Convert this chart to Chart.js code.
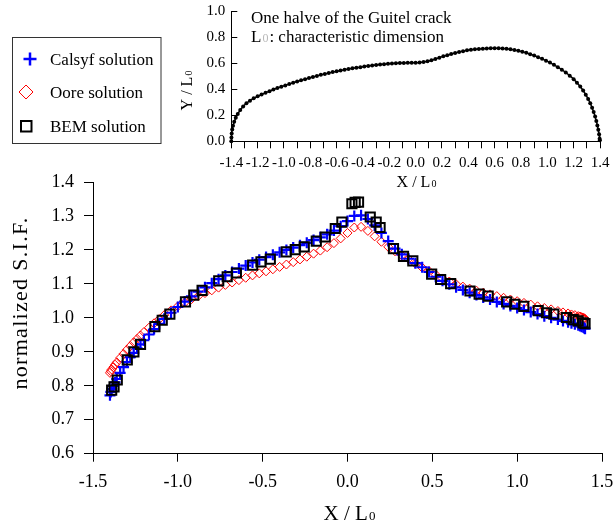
<!DOCTYPE html>
<html>
<head>
<meta charset="utf-8">
<script src="https://cdn.jsdelivr.net/npm/chart.js@4.4.0/dist/chart.umd.min.js"></script>
<style>
  html, body { margin: 0; padding: 0; background: #fff; }
  #wrap { position: relative; width: 613px; height: 528px; }
  #wrap canvas { position: absolute; left: 0; top: 0; }
</style>
</head>
<body>
<div id="wrap">
  <canvas id="main" width="613" height="528"></canvas>
  <canvas id="inset" width="613" height="200"></canvas>
</div>
<script>
// Main chart data: shared x positions for the Calsyf and Oore curves
const xs = [-1.400,-1.395,-1.390,-1.380,-1.370,-1.360,-1.340,-1.320,-1.300,-1.280,-1.260,-1.240,-1.220,-1.200,
  -1.170,-1.140,-1.110,-1.080,-1.040,-1.000,
  -0.960,-0.920,-0.880,-0.840,-0.800,-0.760,-0.720,-0.680,-0.640,-0.600,-0.560,-0.520,-0.480,-0.440,-0.400,
  -0.360,-0.320,-0.280,-0.240,-0.200,-0.160,-0.120,-0.080,-0.040,0.000,
  0.040,0.080,0.120,0.160,0.200,0.240,0.280,0.320,0.360,0.400,0.440,0.480,0.520,0.560,0.600,0.640,0.680,
  0.720,0.760,0.800,0.840,0.880,0.920,0.960,1.000,1.040,1.080,1.120,1.160,1.200,1.240,
  1.270,1.300,1.320,1.340,1.360,1.370,1.380,1.390,1.395,1.400];

const calsyf = [0.772,0.782,0.790,0.800,0.810,0.820,0.838,0.855,0.870,0.884,0.897,0.910,0.922,0.934,
  0.951,0.967,0.982,0.997,1.015,1.032,
  1.048,1.063,1.077,1.090,1.102,1.114,1.125,1.135,1.145,1.154,1.163,1.171,1.179,1.186,1.193,
  1.200,1.207,1.214,1.221,1.229,1.237,1.246,1.257,1.270,1.285,
  1.300,1.302,1.291,1.272,1.250,1.226,1.204,1.187,1.174,1.161,1.149,1.135,1.121,1.109,1.099,1.090,1.082,
  1.074,1.067,1.060,1.054,1.047,1.041,1.035,1.029,1.023,1.017,1.011,1.005,1.000,0.995,
  0.991,0.987,0.984,0.981,0.978,0.976,0.974,0.972,0.970,0.968];

const oore = [0.838,0.843,0.848,0.855,0.862,0.869,0.882,0.894,0.906,0.917,0.928,0.938,0.948,0.958,
  0.971,0.984,0.996,1.008,1.022,1.034,
  1.045,1.055,1.064,1.073,1.081,1.089,1.097,1.104,1.111,1.118,1.125,1.131,1.137,1.143,1.150,
  1.157,1.164,1.172,1.180,1.189,1.198,1.208,1.220,1.234,1.250,
  1.266,1.268,1.256,1.240,1.224,1.209,1.196,1.184,1.173,1.160,1.148,1.138,1.127,1.116,1.107,1.099,1.092,
  1.086,1.080,1.074,1.069,1.064,1.059,1.054,1.049,1.044,1.039,1.034,1.029,1.025,1.020,
  1.016,1.013,1.010,1.008,1.005,1.004,1.002,1.000,0.999,0.997];

const bemX = [-1.390,-1.376,-1.357,-1.298,-1.259,-1.220,-1.135,-1.092,-1.047,-0.955,-0.906,-0.857,
  -0.759,-0.709,-0.655,-0.559,-0.510,-0.455,-0.361,-0.308,-0.255,-0.184,-0.131,-0.072,-0.033,
  0.026,0.045,0.065,0.134,0.169,0.192,0.271,0.330,0.385,0.496,0.549,0.608,0.722,0.776,0.829,
  0.938,0.986,1.039,1.124,1.173,1.216,1.290,1.330,1.359,1.388,1.400];
const bem = [0.787,0.797,0.817,0.876,0.900,0.922,0.974,0.993,1.011,1.047,1.067,1.081,
  1.109,1.121,1.132,1.155,1.165,1.173,1.194,1.201,1.209,1.226,1.238,1.263,1.282,
  1.336,1.340,1.341,1.297,1.282,1.266,1.204,1.181,1.168,1.129,1.113,1.101,1.079,1.070,1.064,
  1.047,1.040,1.034,1.021,1.015,1.011,1.001,0.995,0.991,0.985,0.983];

// Inset: one half of the crack outline
const crackX = [-1.400,-1.399,-1.397,-1.393,-1.387,-1.378,-1.366,-1.351,-1.332,-1.310,-1.285,-1.258,-1.230,
  -1.200,-1.170,-1.140,-1.110,-1.080,-1.050,-1.020,-0.990,-0.960,-0.930,-0.900,-0.870,-0.840,-0.810,
  -0.780,-0.750,-0.720,-0.690,-0.660,-0.630,-0.600,-0.570,-0.540,-0.510,-0.480,-0.450,-0.420,-0.390,
  -0.360,-0.330,-0.300,-0.270,-0.240,-0.210,-0.180,-0.150,-0.120,-0.090,-0.060,-0.030,0.000,
  0.030,0.060,0.090,0.120,0.150,0.180,0.210,0.240,0.270,0.300,0.330,0.360,0.390,0.420,0.450,0.480,
  0.510,0.540,0.570,0.600,0.630,0.660,0.690,0.720,0.750,0.780,0.810,0.840,0.870,0.900,0.930,0.960,
  0.990,1.020,1.050,1.080,1.110,1.140,1.170,1.200,1.225,1.250,1.272,1.292,1.310,1.326,1.340,1.352,
  1.363,1.372,1.380,1.387,1.393,1.397,1.399];
const crackY = [0.000,0.030,0.060,0.090,0.120,0.150,0.180,0.210,0.240,0.268,0.292,0.312,0.330,
  0.345,0.359,0.372,0.385,0.397,0.409,0.419,0.429,0.439,0.449,0.459,0.468,0.477,0.486,
  0.494,0.502,0.510,0.517,0.524,0.531,0.538,0.544,0.549,0.555,0.560,0.565,0.569,0.574,
  0.578,0.582,0.586,0.589,0.592,0.595,0.597,0.599,0.600,0.601,0.602,0.602,0.603,
  0.604,0.608,0.614,0.622,0.632,0.642,0.652,0.661,0.670,0.678,0.685,0.692,0.698,0.703,0.706,0.709,
  0.711,0.713,0.714,0.714,0.714,0.712,0.710,0.706,0.701,0.695,0.688,0.679,0.669,0.658,0.646,0.633,
  0.619,0.604,0.587,0.569,0.550,0.528,0.504,0.477,0.450,0.420,0.390,0.358,0.325,0.292,0.258,0.224,
  0.190,0.156,0.122,0.088,0.054,0.020,0.008];

// Axis ranges
const mainX = { min: -1.5, max: 1.5, step: 0.5 };
const mainY = { min: 0.6, max: 1.4, step: 0.1 };
const insetX = { min: -1.4, max: 1.4, step: 0.1 };
const insetY = { min: 0, max: 1.0, step: 0.2 };

const SERIF = "'Liberation Serif', 'Times New Roman', serif";
const BLUE = '#0000ff';
const RED = '#ff0000';

const pts = (xArr, yArr) => xArr.map((x, i) => ({ x: x, y: yArr[i] }));
const fmt = v => (Math.abs(v) < 1e-9 ? 0 : v).toFixed(1);

// text with a small "0" after it, like "X / L0"
const drawSubText = (ctx, text, sub, x, y, size, subSize, subColor) => {
    ctx.font = `${size}px ${SERIF}`;
    const w1 = ctx.measureText(text).width;
    ctx.font = `${subSize}px ${SERIF}`;
    const w2 = ctx.measureText(sub).width;
    const start = x - (w1 + w2) / 2;
    ctx.textAlign = 'left';
    ctx.font = `${size}px ${SERIF}`;
    ctx.fillText(text, start, y);
    ctx.font = `${subSize}px ${SERIF}`;
    if (subColor) ctx.fillStyle = subColor;
    ctx.fillText(sub, start + w1 + 1, y);
};

// Titles and legend box for the main chart
const mainDecor = {
    id: 'mainDecor',
    afterDraw(chart) {
        const ctx = chart.ctx;
        ctx.save();
        ctx.fillStyle = '#000';
        ctx.textBaseline = 'alphabetic';

        // x title
        drawSubText(ctx, 'X / L', '0', 349, 520, 21, 13);

        // y title
        ctx.save();
        ctx.translate(27, 303);
        ctx.rotate(-Math.PI / 2);
        ctx.font = `22px ${SERIF}`;
        ctx.textAlign = 'center';
        if ('letterSpacing' in ctx) ctx.letterSpacing = '1.3px';
        ctx.fillText('normalized S.I.F.', 0, 0);
        ctx.restore();

        // legend
        ctx.strokeStyle = '#333';
        ctx.lineWidth = 1;
        ctx.strokeRect(12.5, 37.5, 148.5, 106);

        ctx.lineWidth = 2.5;
        ctx.strokeStyle = BLUE;
        ctx.beginPath();
        ctx.moveTo(23.5, 59); ctx.lineTo(36.5, 59);
        ctx.moveTo(30, 52.5); ctx.lineTo(30, 65.5);
        ctx.stroke();

        ctx.lineWidth = 1;
        ctx.strokeStyle = RED;
        ctx.beginPath();
        ctx.moveTo(19, 92); ctx.lineTo(26, 85); ctx.lineTo(33, 92); ctx.lineTo(26, 99);
        ctx.closePath();
        ctx.stroke();

        ctx.lineWidth = 2;
        ctx.strokeStyle = '#000';
        ctx.strokeRect(21, 121, 10.5, 10.5);

        ctx.font = `17px ${SERIF}`;
        ctx.textAlign = 'left';
        ctx.fillStyle = '#000';
        ctx.fillText('Calsyf solution', 50, 64.5);
        ctx.fillText('Oore solution', 50, 98);
        ctx.fillText('BEM solution', 50, 131.5);
        ctx.restore();
    }
};

// Inward ticks, titles and notes for the inset
const insetDecor = {
    id: 'insetDecor',
    afterDraw(chart) {
        const ctx = chart.ctx;
        const ys = chart.scales.y;
        const left = chart.chartArea.left;
        ctx.save();
        ctx.strokeStyle = '#000';
        ctx.lineWidth = 1;
        ctx.beginPath();
        ys.ticks.forEach(t => {
            const py = Math.round(ys.getPixelForValue(t.value)) + 0.5;
            ctx.moveTo(left, py);
            ctx.lineTo(left + 6, py);
        });
        ctx.stroke();

        ctx.fillStyle = '#000';
        ctx.textBaseline = 'alphabetic';
        drawSubText(ctx, 'X / L', '0', 416, 187, 16, 10);

        ctx.save();
        ctx.translate(192, 91);
        ctx.rotate(-Math.PI / 2);
        ctx.fillStyle = '#000';
        drawSubText(ctx, 'Y / L', '0', 0, 0, 16, 10);
        ctx.restore();

        ctx.fillStyle = '#000';
        ctx.font = `17px ${SERIF}`;
        ctx.textAlign = 'left';
        ctx.fillText('One halve of the Guitel crack', 251, 23);
        ctx.fillText('L', 251, 41.5);
        const wL = ctx.measureText('L').width;
        ctx.font = `12px ${SERIF}`;
        ctx.fillStyle = '#b8b8b8';
        ctx.fillText('0', 251 + wL + 1, 41.5);
        const w0 = ctx.measureText('0').width;
        ctx.font = `17px ${SERIF}`;
        ctx.fillStyle = '#000';
        ctx.fillText(': characteristic dimension', 251 + wL + w0 + 2, 41.5);
        ctx.restore();
    }
};

const tickFont = size => ({ family: SERIF, size: size });

new Chart(document.getElementById('main'), {
    type: 'scatter',
    data: {
        datasets: [
            {
                label: 'BEM solution',
                data: pts(bemX, bem),
                pointStyle: 'rect',
                pointRadius: 6.5,
                borderColor: '#000',
                backgroundColor: 'transparent',
                borderWidth: 2,
                clip: false
            },
            {
                label: 'Calsyf solution',
                data: pts(xs, calsyf),
                pointStyle: 'cross',
                pointRadius: 5.5,
                borderColor: BLUE,
                borderWidth: 2.2,
                clip: false
            },
            {
                label: 'Oore solution',
                data: pts(xs, oore),
                pointStyle: 'rectRot',
                pointRadius: 4.5,
                borderColor: RED,
                backgroundColor: 'transparent',
                borderWidth: 1,
                clip: false
            }
        ]
    },
    options: {
        responsive: false,
        animation: false,
        events: [],
        layout: { padding: { left: 0, right: 11, top: 182, bottom: 0 } },
        plugins: { legend: { display: false }, tooltip: { enabled: false } },
        scales: {
            x: {
                type: 'linear',
                min: mainX.min, max: mainX.max,
                ticks: {
                    stepSize: mainX.step, autoSkip: false, maxRotation: 0, minRotation: 0,
                    color: '#000', font: tickFont(18), padding: 10,
                    callback: v => fmt(v)
                },
                grid: { drawOnChartArea: false, drawTicks: true, tickLength: 8, color: '#000' },
                border: { display: true, color: '#000', width: 1 },
                afterFit: s => { s.height = 74.3; s.paddingLeft = 0; s.paddingRight = 0; }
            },
            y: {
                type: 'linear',
                min: mainY.min, max: mainY.max,
                ticks: {
                    stepSize: mainY.step, autoSkip: false,
                    color: '#000', font: tickFont(18), padding: 10,
                    callback: v => fmt(v)
                },
                grid: { drawOnChartArea: false, drawTicks: true, tickLength: 9, color: '#000' },
                border: { display: true, color: '#000', width: 1 },
                afterFit: s => { s.width = 93; s.paddingTop = 0; s.paddingBottom = 0; }
            }
        }
    },
    plugins: [mainDecor]
});

new Chart(document.getElementById('inset'), {
    type: 'scatter',
    data: {
        datasets: [{
            label: 'crack',
            data: pts(crackX, crackY),
            showLine: true,
            borderColor: '#000',
            borderWidth: 1.5,
            pointRadius: 2,
            pointBackgroundColor: '#000',
            pointBorderWidth: 0,
            clip: false
        }]
    },
    options: {
        responsive: false,
        animation: false,
        events: [],
        layout: { padding: { left: 0, right: 13, top: 11, bottom: 0 } },
        plugins: { legend: { display: false }, tooltip: { enabled: false } },
        scales: {
            x: {
                type: 'linear',
                min: insetX.min, max: insetX.max,
                ticks: {
                    stepSize: insetX.step, autoSkip: false, maxRotation: 0, minRotation: 0,
                    color: '#000', font: tickFont(15), padding: 6,
                    callback: (v, i) => (i % 2 === 0 ? fmt(v) : '')
                },
                grid: { drawOnChartArea: false, drawTicks: true, tickLength: 7, color: '#000' },
                border: { display: true, color: '#000', width: 1 },
                afterFit: s => { s.height = 58.7; s.paddingLeft = 0; s.paddingRight = 0; }
            },
            y: {
                type: 'linear',
                min: insetY.min, max: insetY.max,
                ticks: {
                    stepSize: insetY.step, autoSkip: false,
                    color: '#000', font: tickFont(15), padding: 6,
                    callback: v => fmt(v)
                },
                grid: { drawOnChartArea: false, drawTicks: false },
                border: { display: true, color: '#000', width: 1 },
                afterFit: s => { s.width = 231.3; s.paddingTop = 0; s.paddingBottom = 0; }
            }
        }
    },
    plugins: [insetDecor]
});
</script>
</body>
</html>
